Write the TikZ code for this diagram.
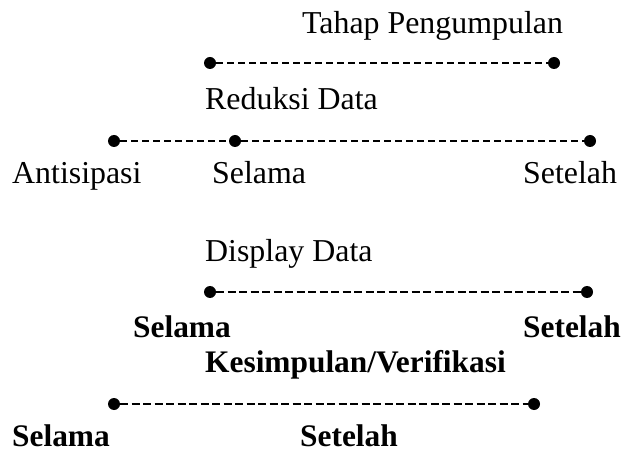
\documentclass[tikz,border=0pt]{standalone}
\usepackage{fontspec}
\setmainfont{Liberation Serif}
\begin{document}
\begin{tikzpicture}[x=1bp,y=-1bp,
  lbl/.style={anchor=base west,inner sep=0pt,font=\fontsize{32}{38}\selectfont},
  blbl/.style={lbl,font=\fontsize{31.5}{38}\selectfont\bfseries},
  dot/.style={circle,fill=black,inner sep=0pt,minimum size=12bp},
  dline/.style={line width=1.8bp,dash pattern=on 7bp off 4bp},
  bline/.style={line width=2.8bp,dash pattern=on 8bp off 3.5bp}]
\useasboundingbox (0,0) rectangle (624,452);
% row 1
\node[lbl] (tahap) at (302,34) {Tahap Pengumpulan};
\node[dot] (a1) at (210,63) {};
\node[dot] (a2) at (554,63) {};
\draw[dline] (a1) -- (a2);
% row 2
\node[lbl] (reduksi) at (205,110) {Reduksi Data};
\node[dot] (b1) at (114,141) {};
\node[dot] (b2) at (235,141) {};
\node[dot] (b3) at (590,141) {};
\draw[dline] (b1) -- (b2);
\draw[dline] (b2) -- (b3);
\node[lbl] (antis) at (12,184) {Antisipasi};
\node[lbl] (sel1) at (212,184) {Selama};
\node[lbl] (set1) at (523,184) {Setelah};
% row 3
\node[lbl] (display) at (205,262) {Display Data};
\node[dot] (c1) at (210,292) {};
\node[dot] (c2) at (587,292) {};
\draw[bline] (c1) -- (c2);
\node[blbl] (sel2) at (133,337) {Selama};
\node[blbl] (set2) at (523,337) {Setelah};
% row 4
\node[blbl] (kesim) at (205,372) {Kesimpulan/Verifikasi};
\node[dot] (d1) at (114,404) {};
\node[dot] (d2) at (534,404) {};
\draw[bline] (d1) -- (d2);
\node[blbl] (sel3) at (12,446) {Selama};
\node[blbl] (set3) at (300,446) {Setelah};
\end{tikzpicture}
\end{document}
